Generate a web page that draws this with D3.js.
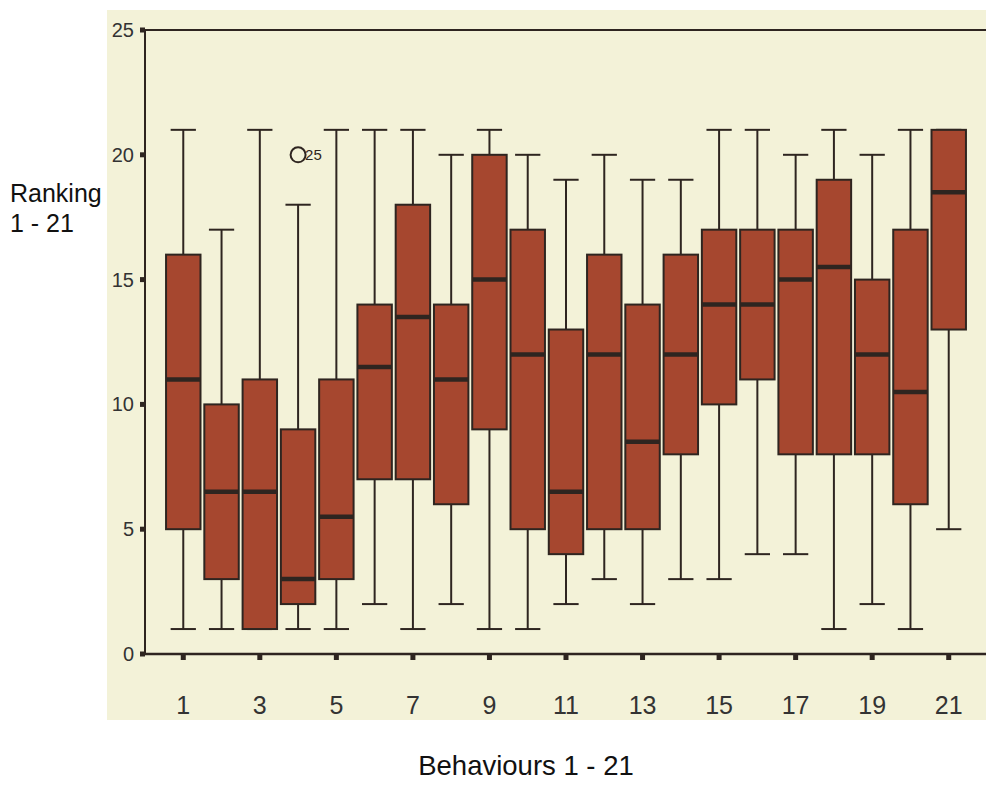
<!DOCTYPE html>
<html>
<head>
<meta charset="utf-8">
<script src="https://cdn.jsdelivr.net/npm/d3@7"></script>
<style>
  body { margin: 0; background: #fff; }
  svg { display: block; }
  text { font-family: "Liberation Sans", Arial, sans-serif; }
</style>
</head>
<body>
<script>
// behaviours 1..21, rankings
var behaviours = d3.range(1, 22);
var whiskerLow  = [1, 1, 1, 1, 1, 2, 1, 2, 1, 1, 2, 3, 2, 3, 3, 4, 4, 1, 2, 1, 5];
var q1          = [5, 3, 1, 2, 3, 7, 7, 6, 9, 5, 4, 5, 5, 8, 10, 11, 8, 8, 8, 6, 13];
var medians     = [11, 6.5, 6.5, 3, 5.5, 11.5, 13.5, 11, 15, 12, 6.5, 12, 8.5, 12, 14, 14, 15, 15.5, 12, 10.5, 18.5];
var q3          = [16, 10, 11, 9, 11, 14, 18, 14, 20, 17, 13, 16, 14, 16, 17, 17, 17, 19, 15, 17, 21];
var whiskerHigh = [21, 17, 21, 18, 21, 21, 21, 20, 21, 20, 19, 20, 19, 19, 21, 21, 20, 21, 20, 21, 21];
var outliers = [{ behaviour: 4, value: 20, label: "25" }];
var yTicks = [0, 5, 10, 15, 20, 25];
var xTicks = [1, 3, 5, 7, 9, 11, 13, 15, 17, 19, 21];

var W = 986, H = 786;
var bg = "#f3f2d8", fill = "#a6472f", ink = "#2e2520";

var svg = d3.select("body").append("svg")
  .attr("width", W)
  .attr("height", H);

// paper panel
svg.append("rect")
  .attr("x", 107).attr("y", 10)
  .attr("width", W - 107).attr("height", 710)
  .attr("fill", bg);

var x = d3.scaleLinear().domain([0, 22]).range([145, 987]);
var y = d3.scaleLinear().domain([0, 25]).range([654, 30]);
var step = x(1) - x(0);
var boxW = step * 0.9;
var capW = step * 0.66;

var data = behaviours.map(function (b, i) {
  return { b: b, lo: whiskerLow[i], q1: q1[i], med: medians[i], q3: q3[i], hi: whiskerHigh[i] };
});

// axes frame
svg.append("line")
  .attr("x1", x(0)).attr("x2", x(22))
  .attr("y1", y(25)).attr("y2", y(25))
  .attr("stroke", ink).attr("stroke-width", 2);
svg.append("line")
  .attr("x1", x(0)).attr("x2", x(0))
  .attr("y1", y(25)).attr("y2", y(0) + 1)
  .attr("stroke", ink).attr("stroke-width", 2);
svg.append("line")
  .attr("x1", x(0) - 5).attr("x2", x(22))
  .attr("y1", y(0)).attr("y2", y(0))
  .attr("stroke", ink).attr("stroke-width", 2.5);

// y ticks
svg.selectAll(".ytick")
  .data(yTicks)
  .enter().append("rect")
  .attr("class", "ytick")
  .attr("x", x(0) - 5).attr("y", function (d) { return y(d) - 2.5; })
  .attr("width", 5).attr("height", 5)
  .attr("fill", ink);
svg.selectAll(".ylab")
  .data(yTicks)
  .enter().append("text")
  .attr("class", "ylab")
  .attr("x", 134).attr("y", function (d) { return y(d) + 7; })
  .attr("text-anchor", "end")
  .attr("font-size", 20)
  .attr("fill", "#333")
  .text(function (d) { return d; });

// x ticks
svg.selectAll(".xtick")
  .data(xTicks)
  .enter().append("rect")
  .attr("class", "xtick")
  .attr("x", function (d) { return x(d) - 2.5; }).attr("y", y(0) + 1)
  .attr("width", 5).attr("height", 5)
  .attr("fill", ink);
svg.selectAll(".xlab")
  .data(xTicks)
  .enter().append("text")
  .attr("class", "xlab")
  .attr("x", function (d) { return x(d); }).attr("y", 714)
  .attr("text-anchor", "middle")
  .attr("font-size", 25)
  .attr("fill", "#333")
  .text(function (d) { return d; });

var g = svg.selectAll(".box")
  .data(data)
  .enter().append("g")
  .attr("class", "box");

// whiskers
g.append("line")
  .attr("x1", function (d) { return x(d.b); }).attr("x2", function (d) { return x(d.b); })
  .attr("y1", function (d) { return y(d.hi); }).attr("y2", function (d) { return y(d.q3); })
  .attr("stroke", ink).attr("stroke-width", 2);
g.append("line")
  .attr("x1", function (d) { return x(d.b); }).attr("x2", function (d) { return x(d.b); })
  .attr("y1", function (d) { return y(d.q1); }).attr("y2", function (d) { return y(d.lo); })
  .attr("stroke", ink).attr("stroke-width", 2);
g.append("line")
  .attr("x1", function (d) { return x(d.b) - capW / 2; }).attr("x2", function (d) { return x(d.b) + capW / 2; })
  .attr("y1", function (d) { return y(d.hi); }).attr("y2", function (d) { return y(d.hi); })
  .attr("stroke", ink).attr("stroke-width", 2);
g.append("line")
  .attr("x1", function (d) { return x(d.b) - capW / 2; }).attr("x2", function (d) { return x(d.b) + capW / 2; })
  .attr("y1", function (d) { return y(d.lo); }).attr("y2", function (d) { return y(d.lo); })
  .attr("stroke", ink).attr("stroke-width", 2);

// boxes
g.append("rect")
  .attr("x", function (d) { return x(d.b) - boxW / 2; })
  .attr("y", function (d) { return y(d.q3); })
  .attr("width", boxW)
  .attr("height", function (d) { return y(d.q1) - y(d.q3); })
  .attr("fill", fill)
  .attr("stroke", ink).attr("stroke-width", 2);

// medians
g.append("line")
  .attr("x1", function (d) { return x(d.b) - boxW / 2; }).attr("x2", function (d) { return x(d.b) + boxW / 2; })
  .attr("y1", function (d) { return y(d.med); }).attr("y2", function (d) { return y(d.med); })
  .attr("stroke", ink).attr("stroke-width", 4.5);

// outlier
svg.selectAll(".outlier")
  .data(outliers)
  .enter().append("circle")
  .attr("class", "outlier")
  .attr("cx", function (d) { return x(d.behaviour); })
  .attr("cy", function (d) { return y(d.value); })
  .attr("r", 7.5)
  .attr("fill", "none")
  .attr("stroke", ink).attr("stroke-width", 2);
svg.selectAll(".outlab")
  .data(outliers)
  .enter().append("text")
  .attr("class", "outlab")
  .attr("x", function (d) { return x(d.behaviour) + 7; })
  .attr("y", function (d) { return y(d.value) + 5; })
  .attr("font-size", 15)
  .attr("fill", ink)
  .text(function (d) { return d.label; });

// axis titles
svg.append("text")
  .attr("x", 10).attr("y", 202)
  .attr("font-size", 25)
  .attr("fill", "#111")
  .text("Ranking");
svg.append("text")
  .attr("x", 10).attr("y", 232)
  .attr("font-size", 25)
  .attr("fill", "#111")
  .text("1 - 21");
svg.append("text")
  .attr("x", 526).attr("y", 775)
  .attr("text-anchor", "middle")
  .attr("font-size", 27.5)
  .attr("fill", "#111")
  .text("Behaviours 1 - 21");
</script>
</body>
</html>
